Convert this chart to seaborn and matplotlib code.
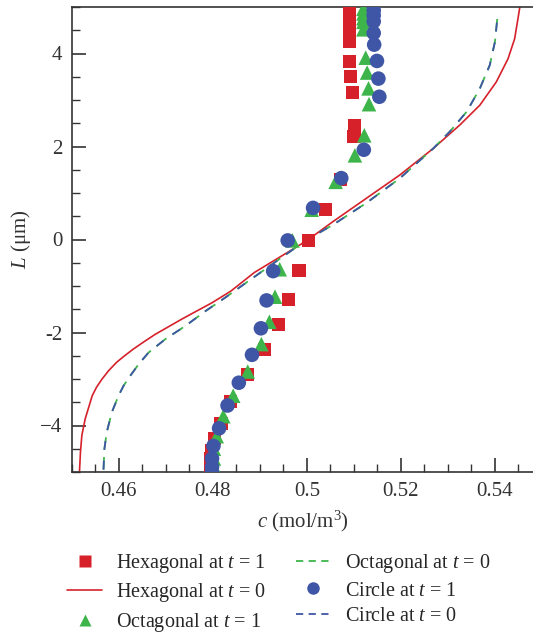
import numpy as np
import pandas as pd
import seaborn as sns
import matplotlib
matplotlib.use("Agg")
import matplotlib.pyplot as plt
from matplotlib.lines import Line2D
from matplotlib.ticker import MultipleLocator, FixedLocator, FixedFormatter

# ---------------- data ----------------
# Hexagonal at t = 0 (solid red line)
hex0_c = [0.4516, 0.4518, 0.4521, 0.4528, 0.4543, 0.4552, 0.4564, 0.4578, 0.4595,
          0.4612, 0.4630, 0.4653, 0.4677, 0.4734, 0.4798, 0.4838, 0.4888, 0.4999,
          0.5056, 0.5127, 0.5198, 0.5269, 0.5325, 0.5368, 0.5403, 0.5428, 0.5442,
          0.5449, 0.5453]
hex0_L = [-4.98, -4.57, -4.21, -3.86, -3.36, -3.18, -3.00, -2.82, -2.64,
          -2.50, -2.36, -2.20, -2.04, -1.71, -1.36, -1.11, -0.71, -0.03,
          0.39, 0.89, 1.39, 1.96, 2.46, 2.89, 3.39, 3.89, 4.32,
          4.75, 5.00]

# Octagonal at t = 0 (green dashed)
oct0_c = [0.4567, 0.4569, 0.4574, 0.4585, 0.4599, 0.4610, 0.4624, 0.4642, 0.4663,
          0.4699, 0.4741, 0.4784, 0.4826, 0.4876, 0.4996, 0.5056, 0.5127, 0.5198,
          0.5269, 0.5304, 0.5340, 0.5368, 0.5389, 0.5400, 0.5405, 0.5405]
oct0_L = [-4.95, -4.50, -4.14, -3.71, -3.36, -3.14, -2.93, -2.68, -2.43,
          -2.14, -1.86, -1.54, -1.25, -0.89, -0.03, 0.32, 0.79, 1.32,
          1.96, 2.32, 2.75, 3.25, 3.75, 4.25, 4.75, 4.89]

# Circle at t = 0 (blue dashed)
circ0_c = [0.4567, 0.4569, 0.4574, 0.4585, 0.4599, 0.4610, 0.4624, 0.4642, 0.4663,
           0.4699, 0.4741, 0.4784, 0.4826, 0.4876, 0.4996, 0.5056, 0.5127, 0.5198,
           0.5269, 0.5304, 0.5340, 0.5368, 0.5389, 0.5400, 0.5405, 0.5405]
circ0_L = [-4.95, -4.50, -4.14, -3.71, -3.36, -3.14, -2.93, -2.68, -2.43,
           -2.14, -1.86, -1.54, -1.25, -0.89, -0.03, 0.32, 0.79, 1.32,
           1.96, 2.32, 2.75, 3.25, 3.75, 4.25, 4.75, 4.89]

# Hexagonal at t = 1 (red squares)
hex1_c = [0.4794, 0.4794, 0.4794, 0.4797, 0.4803, 0.4817, 0.4837, 0.4874, 0.4910,
          0.4939, 0.4961, 0.4983, 0.5003, 0.5040, 0.5072, 0.5100, 0.5102, 0.5097,
          0.5093, 0.5091, 0.5091, 0.5091, 0.5091, 0.5091, 0.5091, 0.5091, 0.5091, 0.5091]
hex1_L = [-4.96, -4.86, -4.71, -4.55, -4.28, -3.95, -3.48, -2.90, -2.36,
          -1.82, -1.29, -0.66, -0.03, 0.64, 1.29, 2.21, 2.46, 3.16,
          3.50, 3.82, 4.25, 4.35, 4.45, 4.55, 4.65, 4.75, 4.85, 4.95]

# Octagonal at t = 1 (green triangles)
oct1_c = [0.4802, 0.4802, 0.4802, 0.4808, 0.4822, 0.4843, 0.4874, 0.4903, 0.4920,
          0.4932, 0.4942, 0.4969, 0.5010, 0.5061, 0.5102, 0.5122, 0.5132, 0.5131,
          0.5128, 0.5125, 0.5120, 0.5120, 0.5120, 0.5120, 0.5120]
oct1_L = [-4.89, -4.71, -4.50, -4.23, -3.80, -3.36, -2.84, -2.25, -1.77,
          -1.23, -0.64, -0.02, 0.64, 1.24, 1.81, 2.24, 2.91, 3.25,
          3.59, 3.91, 4.52, 4.68, 4.76, 4.86, 4.96]

# Circle at t = 1 (blue circles)
circ1_c = [0.4798, 0.4798, 0.4798, 0.4801, 0.4813, 0.4831, 0.4855, 0.4883, 0.4902,
           0.4914, 0.4928, 0.4959, 0.5013, 0.5073, 0.5121, 0.5154, 0.5152, 0.5149,
           0.5143, 0.5142, 0.5142, 0.5142, 0.5142]
circ1_L = [-5.00, -4.89, -4.71, -4.44, -4.06, -3.57, -3.08, -2.48, -1.91,
           -1.31, -0.68, -0.02, 0.68, 1.32, 1.93, 3.07, 3.46, 3.84,
           4.19, 4.44, 4.69, 4.82, 4.93]

x_ticks = [0.46, 0.48, 0.50, 0.52, 0.54]
x_ticklabels = ["0.46", "0.48", "0.5", "0.52", "0.54"]
y_ticks = [-4, -2, 0, 2, 4]
y_ticklabels = ["\u22124", "-2", "0", "2", "4"]

labels = ["Hexagonal at $t$ = 1", "Hexagonal at $t$ = 0", "Octagonal at $t$ = 1",
          "Octagonal at $t$ = 0", "Circle at $t$ = 1", "Circle at $t$ = 0"]

RED = "#d6212b"
GREEN = "#3db54b"
BLUE = "#3f56a6"

# ---------------- style ----------------
sns.set_theme(style="ticks")
plt.rcParams["font.family"] = ["Liberation Serif", "DejaVu Serif"]
plt.rcParams["mathtext.fontset"] = "custom"
plt.rcParams["mathtext.rm"] = "Liberation Serif"
plt.rcParams["mathtext.it"] = "Liberation Serif:italic"
plt.rcParams["font.size"] = 14

fig = plt.figure(figsize=(5.33, 6.35), dpi=100)
ax = fig.add_axes([72 / 533, 1 - 472 / 635, 1 - 72 / 533, (472 - 7) / 635])

# lines
sns.lineplot(x=hex0_c, y=hex0_L, sort=False, estimator=None, ax=ax,
             color=RED, lw=1.2, zorder=2)
sns.lineplot(x=oct0_c, y=oct0_L, sort=False, estimator=None, ax=ax,
             color=GREEN, lw=1.3, zorder=2)
ax.lines[-1].set_dashes([7, 4])
sns.lineplot(x=circ0_c, y=circ0_L, sort=False, estimator=None, ax=ax,
             color=BLUE, lw=1.3, zorder=2)
ax.lines[-1].set_dashes([5, 6])

# markers
sns.scatterplot(x=hex1_c, y=hex1_L, marker="s", s=90, color=RED,
                edgecolor="none", linewidth=0, ax=ax, zorder=3)
sns.scatterplot(x=oct1_c, y=oct1_L, marker="^", s=110, color=GREEN,
                edgecolor="none", linewidth=0, ax=ax, zorder=3)
sns.scatterplot(x=circ1_c, y=circ1_L, marker="o", s=110, color=BLUE,
                edgecolor="none", linewidth=0, ax=ax, zorder=3)

ax.set_xlim(0.45, 0.5481)
ax.set_ylim(-5, 5)
ax.xaxis.set_major_locator(FixedLocator(x_ticks))
ax.xaxis.set_major_formatter(FixedFormatter(x_ticklabels))
ax.xaxis.set_minor_locator(MultipleLocator(0.005))
ax.yaxis.set_major_locator(FixedLocator(y_ticks))
ax.yaxis.set_major_formatter(FixedFormatter(y_ticklabels))
ax.yaxis.set_minor_locator(MultipleLocator(0.5))

ax.tick_params(which="both", direction="in", color="#333333", labelcolor="#333333",
               labelsize=15)
ax.tick_params(which="major", length=10, width=1.2, pad=7)
ax.tick_params(which="minor", length=6, width=1.0)
ax.tick_params(axis="y", which="major", pad=7)

for side in ["left", "bottom", "top"]:
    ax.spines[side].set_color("#333333")
    ax.spines[side].set_linewidth(1.2)
ax.spines["right"].set_visible(False)
ax.spines["top"].set_visible(True)

ax.set_xlabel("$c$ (mol/m$^3$)", fontsize=15, color="#333333", labelpad=6)
ax.set_ylabel("$L$ (\u03bcm)", fontsize=15, color="#333333", labelpad=5)

handles = [
    Line2D([], [], ls="none", marker="s", ms=8, color=RED, mec="none"),
    Line2D([], [], color=RED, lw=1.2),
    Line2D([], [], ls="none", marker="^", ms=9, color=GREEN, mec="none"),
    Line2D([], [], color=GREEN, lw=1.3, dashes=[4, 3]),
    Line2D([], [], ls="none", marker="o", ms=9, color=BLUE, mec="none"),
    Line2D([], [], color=BLUE, lw=1.3, dashes=[4, 3]),
]
fig.legend(handles, labels, ncol=2, frameon=False, fontsize=14.5,
           loc="upper left", bbox_to_anchor=(67 / 533, 1 - 552 / 635),
           handlelength=1.75, handletextpad=0.7, columnspacing=1.45,
           labelspacing=0.32, borderpad=0, borderaxespad=0)

fig.savefig("out.png", dpi=100)
